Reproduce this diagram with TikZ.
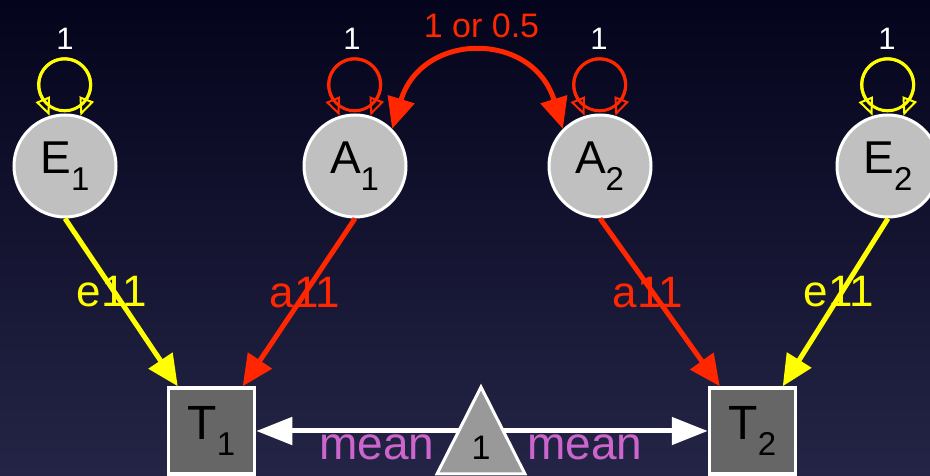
\documentclass[tikz,border=0pt]{standalone}
\usepackage{fontspec}
\setmainfont{Liberation Sans}
\usetikzlibrary{arrows.meta,calc}
\definecolor{bgtop}{RGB}{4,4,28}
\definecolor{bgbot}{RGB}{36,36,70}
\definecolor{semred}{RGB}{255,38,0}
\definecolor{semyel}{RGB}{255,255,0}
\definecolor{latgray}{RGB}{192,192,192}
\definecolor{obsgray}{RGB}{102,102,102}
\definecolor{trigray}{RGB}{153,153,153}
\definecolor{meancol}{RGB}{204,102,204}
\newcommand\fsz[1]{\fontsize{#1}{#1}\selectfont}
\newcommand\latlab[3]{{\fsz{46}#1\kern#2pt\raisebox{-17pt}{\fsz{33}#3}}}
\newcommand\obslab[1]{{\fsz{48}T\kern0pt\raisebox{-16pt}{\fsz{33}#1}}}
\begin{document}
\begin{tikzpicture}[x=1pt,y=1pt,
  latent/.style={circle,draw=white,line width=3pt,fill=latgray,minimum size=102pt,inner sep=0pt,text=black},
  manifest/.style={rectangle,draw=white,line width=3.5pt,fill=obsgray,minimum size=86pt,inner sep=0pt,text=black},
  pathar/.style={line width=5pt,-{Triangle[length=31pt,width=28pt]}},
  covar/.style={line width=5pt,semred,{Triangle[length=31pt,width=27pt]}-{Triangle[length=31pt,width=27pt]}},
  selfloop/.style={line width=3pt,{Triangle[open,length=18pt,width=15pt,line width=2pt]}-{Triangle[open,length=18pt,width=15pt,line width=2pt]}},
  loopring/.style={line width=3pt},
  meanar/.style={line width=5pt,white,-{Triangle[length=36pt,width=27pt]}},
  varlab/.style={anchor=base,inner sep=0pt,text=white,font=\fsz{31}},
  pathlab/.style={anchor=base,inner sep=0pt,font=\fsz{44}},
  meanlab/.style={anchor=base,inner sep=0pt,text=meancol,font=\fsz{46}}
]
\useasboundingbox (0,0) rectangle (930,476);
\clip (0,0) rectangle (930,476);
\shade[top color=bgtop,bottom color=bgbot] (0,0) rectangle (930,476);

% latent nodes
\node[latent] (E1) at (65,310) {\latlab{E}{0}{1}};
\node[latent] (A1) at (355,310) {\latlab{A}{-1}{1}};
\node[latent] (A2) at (600,310) {\latlab{A}{-1}{2}};
\node[latent] (E2) at (888,310) {\latlab{E}{0}{2}};

% manifest nodes
\node[manifest] (T1) at (211.5,45) {\obslab{1}};
\node[manifest] (T2) at (752.5,45) {\obslab{2}};

% variance loops
\foreach \n/\c in {E1/semyel,A1/semred,A2/semred,E2/semyel}{
  \draw[selfloop,\c] (\n.107) -- ++(-7.5,18) arc[start angle=210,end angle=-30,radius=26] -- (\n.73);
  \draw[loopring,\c] ($(\n.107)+(15,31)$) circle[radius=26];
}

\node[varlab] (vE1) at (65,426) {1};
\node[varlab] (vA1) at (352,426) {1};
\node[varlab] (vA2) at (599,426) {1};
\node[varlab] (vE2) at (887,426) {1};

% covariance between A1 and A2
\draw[covar] (A1.45) .. controls +(30,98) and +(-30,98) .. (A2.135);
\node[anchor=base,inner sep=0pt,text=semred,font=\fsz{34}] (cov) at (481.5,438) {1 or 0.5};

% paths
\draw[pathar,semyel] (E1.south) -- ($(T1.north west)+(11,0)$);
\draw[pathar,semred] (A1.south) -- ($(T1.north west)+(76,0)$);
\draw[pathar,semred] (A2.south) -- ($(T2.north west)+(12,0)$);
\draw[pathar,semyel] (E2.south) -- ($(T2.north west)+(75,0)$);

\node[pathlab,text=semyel] (le1) at (112,169) {e11};
\node[pathlab,text=semred] (la1) at (305,168) {a11};
\node[pathlab,text=semred] (la2) at (648,168) {a11};
\node[pathlab,text=semyel] (le2) at (839,169) {e11};

% means
\coordinate (M) at (481,45);
\draw[meanar] (M) -- (T1);
\draw[meanar] (M) -- (T2);
\draw[line width=3pt,draw=white,fill=trigray,line join=miter] (481,89) -- (525,2) -- (437,2) -- cycle;
\node[anchor=base,inner sep=0pt,text=black,font=\fsz{34}] (one) at (481,16) {1};
\node[meanlab] (m1) at (377,16) {mean};
\node[meanlab] (m2) at (585,16) {mean};
\end{tikzpicture}
\end{document}
